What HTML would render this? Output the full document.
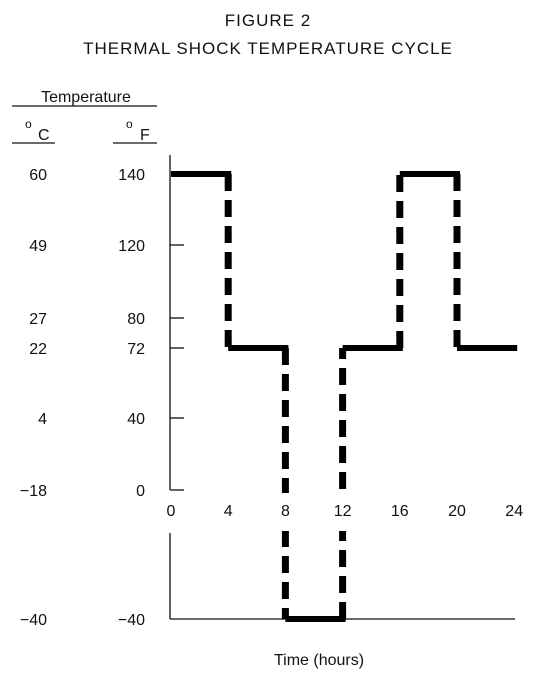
<!DOCTYPE html>
<html><head><meta charset="utf-8"><style>
html,body{margin:0;padding:0;background:#fff;}
svg{display:block;}
text{font-family:"Liberation Sans",sans-serif;fill:#111;}
</style></head><body>
<svg id="chart" width="535" height="676" viewBox="0 0 535 676">
<text x="268" y="26" font-size="17" text-anchor="middle" letter-spacing="1">FIGURE 2</text>
<text x="268" y="54" font-size="17" text-anchor="middle" letter-spacing="1">THERMAL SHOCK TEMPERATURE CYCLE</text>
<text x="86" y="102" font-size="16" text-anchor="middle">Temperature</text>
<line x1="12" y1="106" x2="157" y2="106" stroke="#111" stroke-width="1.3"/>
<g><text x="25" y="128" font-size="12">o</text><text x="38" y="140" font-size="16">C</text></g>
<line x1="12" y1="143" x2="55" y2="143" stroke="#111" stroke-width="1.3"/>
<g><text x="126" y="128" font-size="12">o</text><text x="140" y="140" font-size="16">F</text></g>
<line x1="113" y1="143" x2="157" y2="143" stroke="#111" stroke-width="1.3"/>
<g id="axes"></g>
<g id="marks"></g>
<rect x="160" y="493" width="370" height="38" fill="#fff"/>
<g id="xlabels"></g>
<text x="319" y="665" font-size="16" text-anchor="middle">Time (hours)</text>
</svg>
<script>
const hourTicks = [0, 4, 8, 12, 16, 20, 24];
const tempTicksF = [140, 120, 80, 72, 40, 0, -40];
const tempTicksC = ["60", "49", "27", "22", "4", "-18", "-40"];
const stepTimes = [0, 4, 8, 12, 16, 20, 24];
const stepTemps = [140, 72, -40, 72, 140, 72];

const NS = "http://www.w3.org/2000/svg";
function x(t){ return 171 + t * 14.3; }
const yBreaksV = [-40, 0, 40, 72, 80, 120, 140];
const yBreaksP = [619, 490, 418, 348, 318, 245, 174];
function y(v){
  for (let i = 0; i < yBreaksV.length - 1; i++) {
    if (v <= yBreaksV[i+1] || i === yBreaksV.length - 2) {
      const f = (v - yBreaksV[i]) / (yBreaksV[i+1] - yBreaksV[i]);
      return yBreaksP[i] + f * (yBreaksP[i+1] - yBreaksP[i]);
    }
  }
}
function mk(tag, attrs, parent){
  const e = document.createElementNS(NS, tag);
  for (const k in attrs) e.setAttribute(k, attrs[k]);
  parent.appendChild(e); return e;
}
const axes = document.getElementById('axes');
const marks = document.getElementById('marks');
const xlabels = document.getElementById('xlabels');

let a = mk('line', {x1:170,y1:155,x2:170,y2:490,stroke:'#111','stroke-width':1.3}, axes);


a = mk('line', {x1:170,y1:533,x2:170,y2:619,stroke:'#111','stroke-width':1.3}, axes);


a = mk('line', {x1:170,y1:619,x2:515,y2:619,stroke:'#111','stroke-width':1.3}, axes);



tempTicksF.forEach((v, i) => {
  const yy = y(v);
  if (v !== 140 && v !== -40) {
    const tk = mk('line', {x1:170,y1:yy,x2:184,y2:yy,stroke:'#111','stroke-width':1.3}, axes);
    
    
  }
  const tf = mk('text', {x:145,y:yy+6,'font-size':16,'text-anchor':'end'}, axes);
  tf.textContent = v < 0 ? '\u2212' + Math.abs(v) : String(v);
  
  
  const tc = mk('text', {x:47,y:yy+6,'font-size':16,'text-anchor':'end'}, axes);
  tc.textContent = tempTicksC[i].replace('-', '\u2212');
  
  
});

hourTicks.forEach(t => {
  const tx = mk('text', {x:x(t),y:516,'font-size':16,'text-anchor':'middle'}, xlabels);
  tx.textContent = String(t);
  
  
});

stepTemps.forEach((v, i) => {
  const x0 = x(stepTimes[i]), x1 = x(stepTimes[i+1]), yy = y(v);
  const h = mk('line', {x1:x0,y1:yy,x2:x1+3,y2:yy,stroke:'#000','stroke-width':6}, marks);
  
  
  if (i < stepTemps.length - 1) {
    const ny = y(stepTemps[i+1]);
    const d = mk('line', {x1:x1,y1:yy,x2:x1,y2:ny,stroke:'#000','stroke-width':7,'stroke-dasharray':'17 9'}, marks);
    
    
  }
});
</script>
</body></html>
